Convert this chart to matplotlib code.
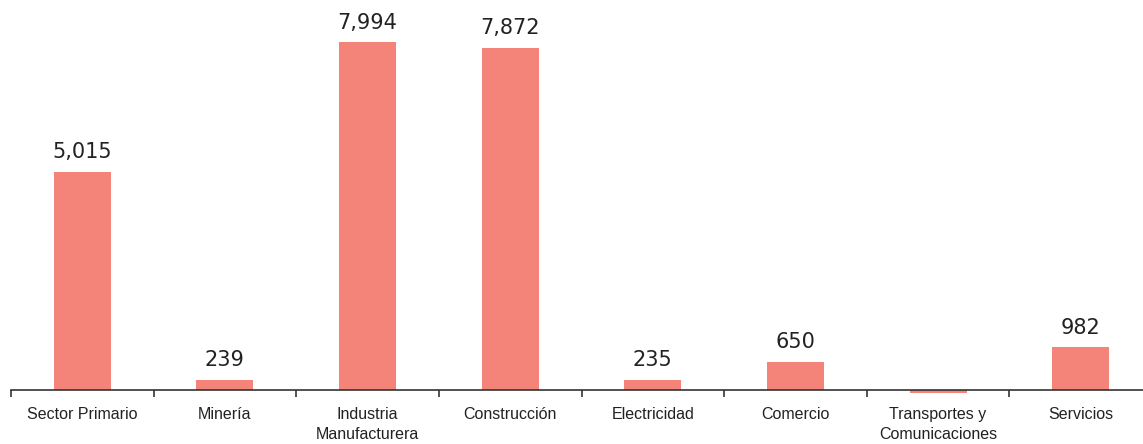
import numpy as np
import matplotlib.pyplot as plt

categories = ['Sector Primario', 'Minería', 'Industria\nManufacturera', 'Construcción',
              'Electricidad', 'Comercio', 'Transportes y\nComunicaciones', 'Servicios']
values = [5015, 239, 7994, 7872, 235, 650, -80, 982]
labels = ['5,015', '239', '7,994', '7,872', '235', '650', '', '982']

fig = plt.figure(figsize=(11.43, 4.44), dpi=100)
ax = fig.add_axes([11 / 1143, (444 - 398) / 444, 1141 / 1143, 398 / 444])

x = np.arange(len(categories))
bars = ax.bar(x, values, width=0.4, color='#F4837A')

for bar, lab in zip(bars, labels):
    if lab:
        ax.text(bar.get_x() + bar.get_width() / 2, bar.get_height() + 220, lab,
                ha='center', va='bottom', fontsize=15, family='DejaVu Sans', color='#222222')

ax.set_xlim(-0.5, len(categories) - 0.5)
ax.set_ylim(-184, 8970)

for s in ['top', 'right', 'left']:
    ax.spines[s].set_visible(False)
ax.spines['bottom'].set_position(('data', 0))
ax.spines['bottom'].set_color('#333333')
ax.spines['bottom'].set_linewidth(1.2)
ax.set_yticks([])

ax.set_xticks(x)
ax.set_xticklabels(categories, fontsize=11.5, family='Liberation Sans', color='#222222',
                   linespacing=1.45)
ax.set_xticks(np.arange(-0.5, len(categories)), minor=True)
ax.tick_params(axis='x', which='major', length=0, pad=12)
ax.tick_params(axis='x', which='minor', length=5, width=1.2, color='#333333', direction='out')

fig.savefig('out.png', dpi=100)
